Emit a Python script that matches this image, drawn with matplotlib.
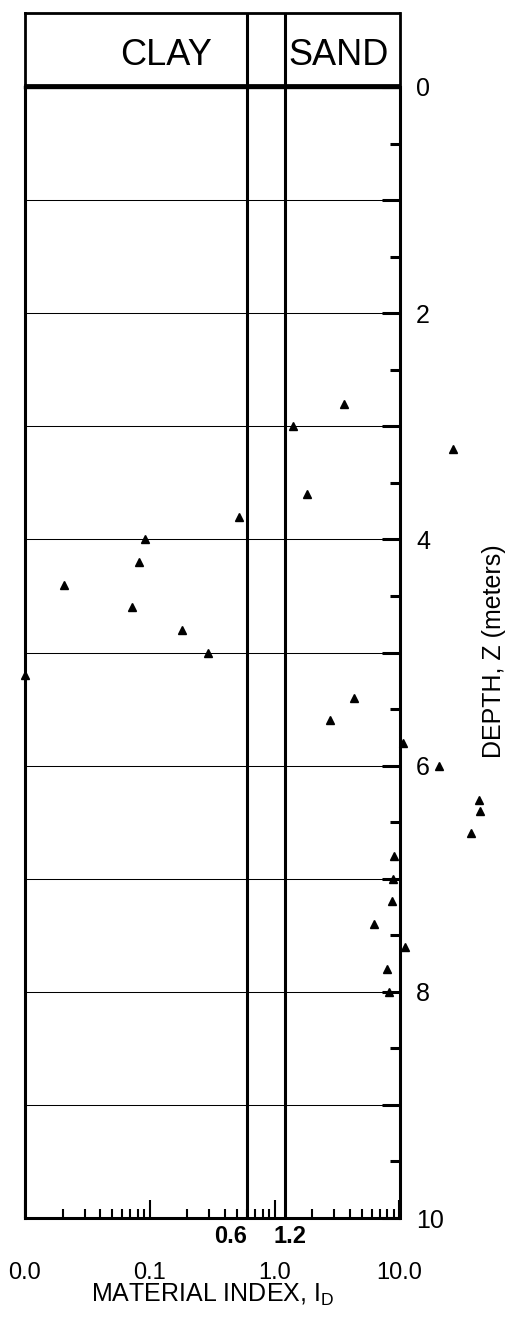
import matplotlib
matplotlib.use("Agg")
import matplotlib.pyplot as plt
from matplotlib.ticker import FixedLocator, FixedFormatter, LogLocator, NullFormatter

plt.rcParams['font.family'] = ['Liberation Sans', 'DejaVu Sans']
plt.rcParams['mathtext.fontset'] = 'custom'
plt.rcParams['mathtext.rm'] = 'Liberation Sans'
plt.rcParams['mathtext.it'] = 'Liberation Sans:italic'
plt.rcParams['mathtext.bf'] = 'Liberation Sans:bold'

# ---- data ----
material_index = [3.6, 1.4, 27.0, 1.8, 0.52, 0.092, 0.082, 0.0205, 0.072, 0.182,
                  0.294, 0.01, 4.3, 2.8, 10.7, 20.6, 43.7, 44.5, 37.5, 9.1,
                  8.8, 8.7, 6.3, 11.0, 8.0, 8.3]
depth = [2.8, 3.0, 3.2, 3.6, 3.8, 4.0, 4.2, 4.4, 4.6, 4.8,
         5.0, 5.2, 5.4, 5.6, 5.8, 6.0, 6.3, 6.4, 6.6, 6.8,
         7.0, 7.2, 7.4, 7.6, 7.8, 8.0]
boundaries = [0.6, 1.2]
boundary_labels = ['0.6', '1.2']
x_major = [0.01, 0.1, 1.0, 10.0]
x_major_labels = ['0.0', '0.1', '1.0', '10.0']
y_major = list(range(0, 11))
y_major_labels = ['0', '', '2', '', '4', '', '6', '', '8', '', '10']
y_minor = [v + 0.5 for v in range(0, 10)]
zones = ['CLAY', 'SAND']

W, H = 529, 1324
fig = plt.figure(figsize=(W / 100, H / 100), dpi=100)

L, R, T, B = 25, 399.5, 87, 1218
ax = fig.add_axes([L / W, 1 - B / H, (R - L) / W, (B - T) / H])
ax.set_xscale('log')
ax.set_xlim(0.01, 10)
ax.set_ylim(10, 0)

# gridlines
for yv in y_major[1:-1]:
    ax.axhline(yv, color='black', lw=0.75, zorder=1)
for bx in boundaries:
    ax.axvline(bx, color='black', lw=2.2, zorder=2)

ax.plot(material_index, depth, linestyle='none', marker='^', color='black',
        markersize=6, clip_on=False, zorder=5)

# spines
for s in ['left', 'right', 'bottom']:
    ax.spines[s].set_linewidth(2.2)
ax.spines['top'].set_linewidth(2.4)

# y axis on right
ax.yaxis.tick_right()
ax.yaxis.set_major_locator(FixedLocator(y_major))
ax.yaxis.set_major_formatter(FixedFormatter(y_major_labels))
ax.yaxis.set_minor_locator(FixedLocator(y_minor))
ax.tick_params(axis='y', which='major', direction='in', length=13, width=2.2,
               pad=12, labelsize=18, right=True, left=False)
ax.tick_params(axis='y', which='minor', direction='in', length=7, width=2.2,
               right=True, left=False)

# x axis
ax.xaxis.set_major_locator(FixedLocator(x_major))
ax.xaxis.set_major_formatter(FixedFormatter(x_major_labels))
ax.xaxis.set_minor_locator(LogLocator(base=10, subs=range(2, 10)))
ax.xaxis.set_minor_formatter(NullFormatter())
ax.tick_params(axis='x', which='major', direction='in', length=13, width=1.5,
               pad=32, labelsize=17, top=False)
ax.tick_params(axis='x', which='minor', direction='in', length=6.5, width=1.5,
               top=False)

# boundary labels
ax.annotate(boundary_labels[0], xy=(boundaries[0], 0), xycoords=('data', 'axes fraction'),
            xytext=(0, -5), textcoords='offset points', ha='right', va='top',
            fontsize=17, fontweight='bold')
ax.annotate(boundary_labels[1], xy=(boundaries[1], 0), xycoords=('data', 'axes fraction'),
            xytext=(3.6, -5), textcoords='offset points', ha='center', va='top',
            fontsize=17, fontweight='bold')

# header box
HT, HB = 13.3, 84.5
hx = fig.add_axes([L / W, 1 - HB / H, (R - L) / W, (HB - HT) / H])
hx.set_xscale('log')
hx.set_xlim(0.01, 10)
hx.set_ylim(0, 1)
hx.set_xticks([])
hx.set_yticks([])
hx.minorticks_off()
for s in hx.spines.values():
    s.set_linewidth(2.0)
for bx in boundaries:
    hx.axvline(bx, color='black', lw=2.2)
hx.text(0.377, 0.274, zones[0], transform=hx.transAxes, ha='center', va='baseline', fontsize=26)
hx.text(0.837, 0.274, zones[1], transform=hx.transAxes, ha='center', va='baseline', fontsize=26)

# axis titles
fig.text(213 / W, 1 - 1302 / H, 'MATERIAL INDEX, I$_{\\mathrm{D}}$', ha='center',
         va='baseline', fontsize=18)
fig.text(494 / W, 1 - 651 / H, 'DEPTH, Z (meters)', rotation=90, ha='center',
         va='center', fontsize=18)

fig.savefig('out.png', dpi=100)
